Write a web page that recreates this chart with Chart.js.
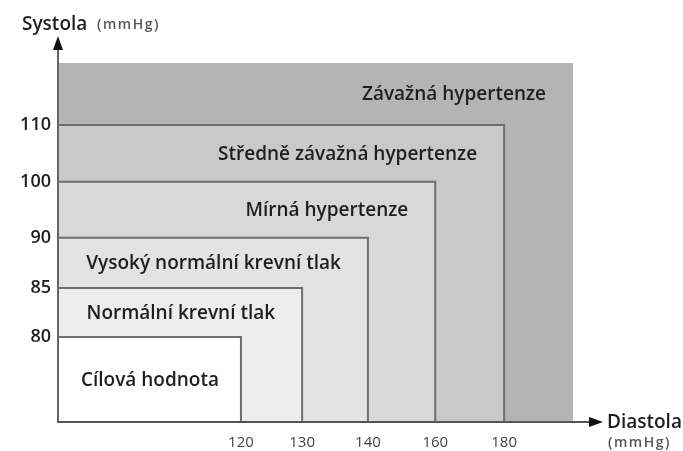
<!DOCTYPE html>
<html><head><meta charset="utf-8">
<script src="https://cdn.jsdelivr.net/npm/chart.js@4/dist/chart.umd.min.js"></script>
<style>html,body{margin:0;padding:0;background:#fff;}</style>
</head><body>
<canvas id="c" width="683" height="451"></canvas>
<script>
// ---- data ----
const categories = ['Cílová hodnota','Normální krevní tlak','Vysoký normální krevní tlak','Mírná hypertenze','Středně závažná hypertenze','Závažná hypertenze'];
const diastolicLimits = [120, 130, 140, 160, 180, 200];   // last = open-ended zone drawn to axis end
const systolicLimits  = [80, 85, 90, 100, 110, 120];
const diastolicTicks = [120, 130, 140, 160, 180];
const systolicTicks  = [80, 85, 90, 100, 110];
const zoneColors = ['#ffffff','#ededed','#e3e3e3','#d8d8d8','#c9c9c9','#b4b4b4'];

// non-uniform axis layout (value -> fraction of axis length)
const axisKnots = {
  x: [[0,0],[120,0.354],[130,0.473],[140,0.601],[160,0.732],[180,0.866],[200,1]],
  y: [[0,0],[80,0.237],[85,0.373],[90,0.513],[100,0.669],[110,0.827],[120,1]]
};
const axisTicks = { x: diastolicTicks, y: systolicTicks };

class PiecewiseScale extends Chart.LinearScale {
  _frac(v) {
    const k = axisKnots[this.id];
    for (let i = 1; i < k.length; i++) {
      if (v <= k[i][0] || i === k.length - 1) {
        const a = k[i-1], b = k[i];
        return a[1] + (v - a[0]) * (b[1] - a[1]) / (b[0] - a[0]);
      }
    }
  }
  _value(f) {
    const k = axisKnots[this.id];
    for (let i = 1; i < k.length; i++) {
      if (f <= k[i][1] || i === k.length - 1) {
        const a = k[i-1], b = k[i];
        return a[0] + (f - a[1]) * (b[0] - a[0]) / (b[1] - a[1]);
      }
    }
  }
  buildTicks() { return axisTicks[this.id].map(v => ({ value: v })); }
  getPixelForValue(value) { return this.getPixelForDecimal(this._frac(value)); }
  getValueForPixel(pixel) { return this._value(this.getDecimalForPixel(pixel)); }
}
PiecewiseScale.id = 'piecewise';
PiecewiseScale.defaults = Chart.LinearScale.defaults;
Chart.register(PiecewiseScale);

const FONT = "'Open Sans', 'DejaVu Sans', sans-serif";
const last = categories.length - 1;

const datasets = categories.map((name, i) => ({
  label: name,
  data: [{x:0, y:systolicLimits[i]}, {x:diastolicLimits[i], y:systolicLimits[i]}, {x:diastolicLimits[i], y:0}],
  fill: 'origin',
  backgroundColor: zoneColors[i],
  borderColor: i === last ? zoneColors[i] : '#6e6e6e',
  borderWidth: i === last ? 0 : 2,
  pointRadius: 0,
  tension: 0
}));

const decor = {
  id: 'decor',
  afterDatasetsDraw(chart) {
    const ctx = chart.ctx, xs = chart.scales.x, ys = chart.scales.y, ca = chart.chartArea;
    ctx.save();
    ctx.fillStyle = '#1e1e1e';
    ctx.font = "600 19px " + FONT;
    ctx.textBaseline = 'middle';
    categories.forEach((name, i) => {
      const top = ys.getPixelForValue(systolicLimits[i]);
      const innerTop = i > 0 ? ys.getPixelForValue(systolicLimits[i-1]) : ys.getPixelForValue(0);
      const right = xs.getPixelForValue(diastolicLimits[i]);
      const yc = (top + innerTop) / 2 + 1;
      if (i === 0) { ctx.textAlign = 'center'; ctx.fillText(name, (ca.left + right) / 2, yc); }
      else { ctx.textAlign = 'right'; ctx.fillText(name, right - 27, yc); }
    });
    ctx.restore();
  },
  afterDraw(chart) {
    const ctx = chart.ctx, ca = chart.chartArea;
    ctx.save();
    // axes
    ctx.strokeStyle = '#666'; ctx.lineWidth = 2;
    ctx.beginPath(); ctx.moveTo(ca.left - 1, ca.bottom); ctx.lineTo(ca.left - 1, 48); ctx.stroke();
    ctx.strokeStyle = '#555';
    ctx.beginPath(); ctx.moveTo(ca.left - 2, ca.bottom); ctx.lineTo(592, ca.bottom); ctx.stroke();
    ctx.fillStyle = '#111';
    ctx.beginPath(); ctx.moveTo(ca.left - 1, 36); ctx.lineTo(ca.left - 6, 50); ctx.lineTo(ca.left + 4, 50); ctx.closePath(); ctx.fill();
    ctx.beginPath(); ctx.moveTo(603, ca.bottom); ctx.lineTo(589, ca.bottom - 5); ctx.lineTo(589, ca.bottom + 5); ctx.closePath(); ctx.fill();
    // axis titles
    ctx.textBaseline = 'alphabetic'; ctx.textAlign = 'left';
    ctx.fillStyle = '#1e1e1e'; ctx.font = "600 19px " + FONT;
    ctx.fillText('Systola', 22, 30);
    ctx.fillText('Diastola', 607, 428);
    ctx.fillStyle = '#555'; ctx.font = "600 14px " + FONT;
    try { ctx.letterSpacing = '1.5px'; } catch (e) {}
    ctx.fillText('(mmHg)', 97, 29);
    ctx.fillText('(mmHg)', 608, 447);
    ctx.restore();
  }
};

new Chart(document.getElementById('c'), {
  type: 'line',
  data: { datasets },
  options: {
    responsive: false,
    animation: false,
    layout: { padding: { top: 63, right: 110, left: 0, bottom: 0 } },
    plugins: { legend: { display: false }, tooltip: { enabled: false } },
    scales: {
      x: {
        type: 'piecewise', min: 0, max: 200,
        grid: { display: false, drawTicks: false }, border: { display: false },
        ticks: { autoSkip: false, maxRotation: 0, padding: 12, color: '#444', font: { family: FONT, size: 15 }, callback: v => String(v) },
        afterFit: s => { s.height = 29; }
      },
      y: {
        type: 'piecewise', min: 0, max: 120,
        grid: { display: false, drawTicks: false }, border: { display: false },
        ticks: { autoSkip: false, padding: 8, color: '#1e1e1e', font: { family: FONT, size: 18, weight: '600' }, callback: v => String(v) },
        afterFit: s => { s.width = 59; }
      }
    }
  },
  plugins: [decor]
});
</script>
</body></html>
